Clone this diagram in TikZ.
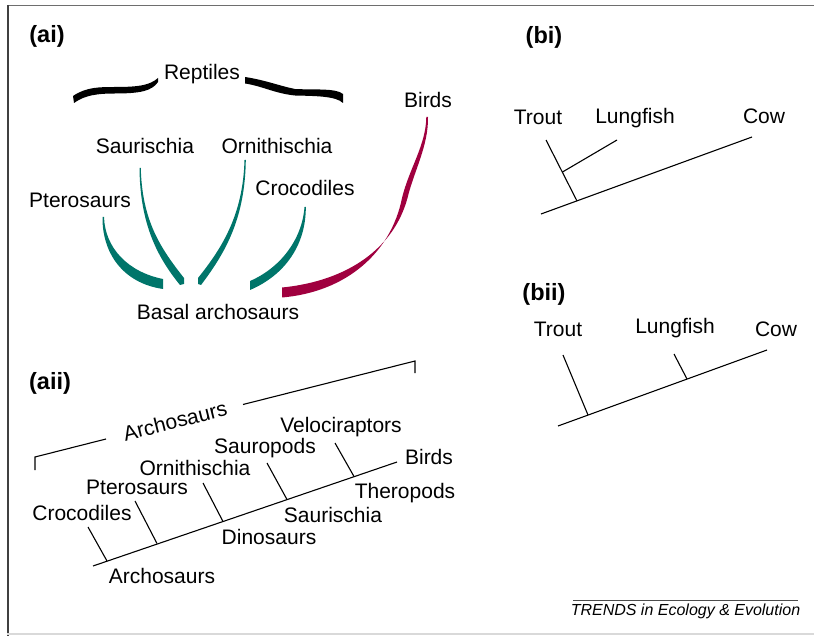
\documentclass[tikz,border=0pt]{standalone}
\usepackage{fontspec}
\setmainfont{Liberation Sans}
\definecolor{brteal}{RGB}{0,117,106}
\definecolor{brred}{RGB}{160,0,63}
\definecolor{framegray}{RGB}{110,110,110}
\begin{document}
\begin{tikzpicture}[x=1pt,y=-1pt,
  lbl/.style={inner sep=0pt, font=\fontsize{21}{24}\selectfont},
  panel/.style={inner sep=0pt, font=\bfseries\fontsize{23.5}{26}\selectfont},
  tree/.style={line width=1.1pt, line cap=butt},
  tealbr/.style={fill=brteal},
  redbr/.style={fill=brred},
  bracefill/.style={fill=black}]
\useasboundingbox (0,0) rectangle (814,636);
% frame
\draw[framegray, line width=1.5pt] (7,5.5) -- (814,5.5);
\draw[black!75, line width=2pt] (7.5,5) -- (7.5,636);
\draw[black!15, line width=1.5pt] (7,634) -- (814,634);

% ---------- (ai) ----------
\node[panel] (ai) at (47,36) {(ai)};
\node[lbl] (rept) at (202,74) {Reptiles};
\node[lbl] (birdsA) at (428,100) {Birds};
\node[lbl] (saurA) at (145,146) {Saurischia};
\node[lbl] (ornA) at (277,146) {Ornithischia};
\node[lbl] (pteroA) at (80,200) {Pterosaurs};
\node[lbl] (crocA) at (305,188) {Crocodiles};
\node[lbl] (basal) at (218,312) {Basal archosaurs};

% brace
\path[bracefill] (73,96) .. controls (86,87) and (100,87) .. (115,87)
  .. controls (140,87) and (150,85) .. (158,78)
  -- (158,82) .. controls (152,91) and (140,93.5) .. (115,93.5)
  .. controls (98,93.5) and (85,95) .. (74,103) -- cycle;
\path[bracefill] (245,77) .. controls (265,80) and (280,86) .. (295,89)
  .. controls (315,90) and (336,88) .. (343,94)
  -- (343,103) .. controls (336,96) and (315,96) .. (295,95.5)
  .. controls (275,93.5) and (262,86) .. (245,83.5) -- cycle;

% teal branches
\path[tealbr] (104,217) .. controls (105,248) and (128,272) .. (163,279)
  -- (163,289) .. controls (122,283) and (102,252) .. (102.5,217) -- cycle;
\path[tealbr] (139.5,168) .. controls (140,225) and (158,258) .. (180,285)
  -- (184,284) -- (184,278) .. controls (162,250) and (142,222) .. (140.8,168) -- cycle;
\path[tealbr] (245.8,160) .. controls (245,218) and (226,252) .. (201,285)
  -- (198,284) -- (198,278) .. controls (222,248) and (243,215) .. (244.5,160) -- cycle;
\path[tealbr] (305.8,207) .. controls (306,245) and (285,275) .. (250,290)
  -- (250,281) .. controls (280,268) and (302,240) .. (304.5,207) -- cycle;
% red branch
\path[redbr] (428,117) .. controls (428.5,146) and (414,171) .. (407.5,198)
  .. controls (394,248) and (348,281) .. (282,287.5)
  -- (282,297.5) .. controls (346,292) and (391,253) .. (402,198)
  .. controls (409,169) and (426,145) .. (426.3,117) -- cycle;

% ---------- (aii) ----------
\node[panel] (aii) at (50,383) {(aii)};
\coordinate (bl0) at (35,470);
\coordinate (bl1) at (35,457);
\coordinate (bg1) at (106,439);
\coordinate (bg2) at (243,404.5);
\coordinate (br1) at (415,361);
\coordinate (br0) at (415,373);
\draw[tree] (bl0) -- (bl1) -- (bg1);
\draw[tree] (bg2) -- (br1) -- (br0);
\node[lbl, rotate=14] (archTop) at (175,421) {Archosaurs};

\coordinate (ax0) at (93,566);
\coordinate (ax1) at (397,462);
\draw[tree] (ax0) -- (ax1);
\coordinate (c1a) at (88,527);  \coordinate (c1b) at (107,561);
\coordinate (c2a) at (135,501); \coordinate (c2b) at (157,543.5);
\coordinate (c3a) at (203,483); \coordinate (c3b) at (223,521.5);
\coordinate (c4a) at (267,463); \coordinate (c4b) at (287,499.5);
\coordinate (c5a) at (335,443); \coordinate (c5b) at (354,476.5);
\draw[tree] (c1a) -- (c1b);
\draw[tree] (c2a) -- (c2b);
\draw[tree] (c3a) -- (c3b);
\draw[tree] (c4a) -- (c4b);
\draw[tree] (c5a) -- (c5b);
\node[lbl] (crocB) at (82,513) {Crocodiles};
\node[lbl] (pteroB) at (137,487) {Pterosaurs};
\node[lbl] (ornB) at (195,468) {Ornithischia};
\node[lbl] (sauro) at (265,448) {Sauropods};
\node[lbl] (velo) at (341,427) {Velociraptors};
\node[lbl] (birdsB) at (429,457) {Birds};
\node[lbl] (thero) at (405,493) {Theropods};
\node[lbl] (saurB) at (333,515) {Saurischia};
\node[lbl] (dino) at (269,537) {Dinosaurs};
\node[lbl] (archB) at (162,576) {Archosaurs};

% ---------- (bi) ----------
\node[panel] (bi) at (544,37) {(bi)};
\node[lbl] (trout1) at (538,117) {Trout};
\node[lbl] (lung1) at (635,118) {Lungfish};
\node[lbl] (cow1) at (764,116) {Cow};
\coordinate (b1a0) at (541,214);
\coordinate (b1a1) at (752,137);
\coordinate (b1t0) at (546,140);
\coordinate (b1t1) at (577,201);
\coordinate (b1l0) at (617,140);
\coordinate (b1l1) at (562.5,172);
\draw[tree] (b1a0) -- (b1a1);
\draw[tree] (b1t0) -- (b1t1);
\draw[tree] (b1l0) -- (b1l1);

% ---------- (bii) ----------
\node[panel] (bii) at (544,294) {(bii)};
\node[lbl] (trout2) at (558,329) {Trout};
\node[lbl] (lung2) at (675,328) {Lungfish};
\node[lbl] (cow2) at (776,329) {Cow};
\coordinate (b2a0) at (558,426);
\coordinate (b2a1) at (767,350);
\coordinate (b2t0) at (563,355);
\coordinate (b2t1) at (588,415);
\coordinate (b2l0) at (674,354);
\coordinate (b2l1) at (687,379);
\draw[tree] (b2a0) -- (b2a1);
\draw[tree] (b2t0) -- (b2t1);
\draw[tree] (b2l0) -- (b2l1);

% footer
\coordinate (f0) at (573,600.5);
\coordinate (f1) at (798,600.5);
\draw[black!70, line width=1pt] (f0) -- (f1);
\node[inner sep=0pt, font=\itshape\fontsize{16}{18}\selectfont] (trends) at (685.5,611) {TRENDS in Ecology \& Evolution};
\end{tikzpicture}
\end{document}
